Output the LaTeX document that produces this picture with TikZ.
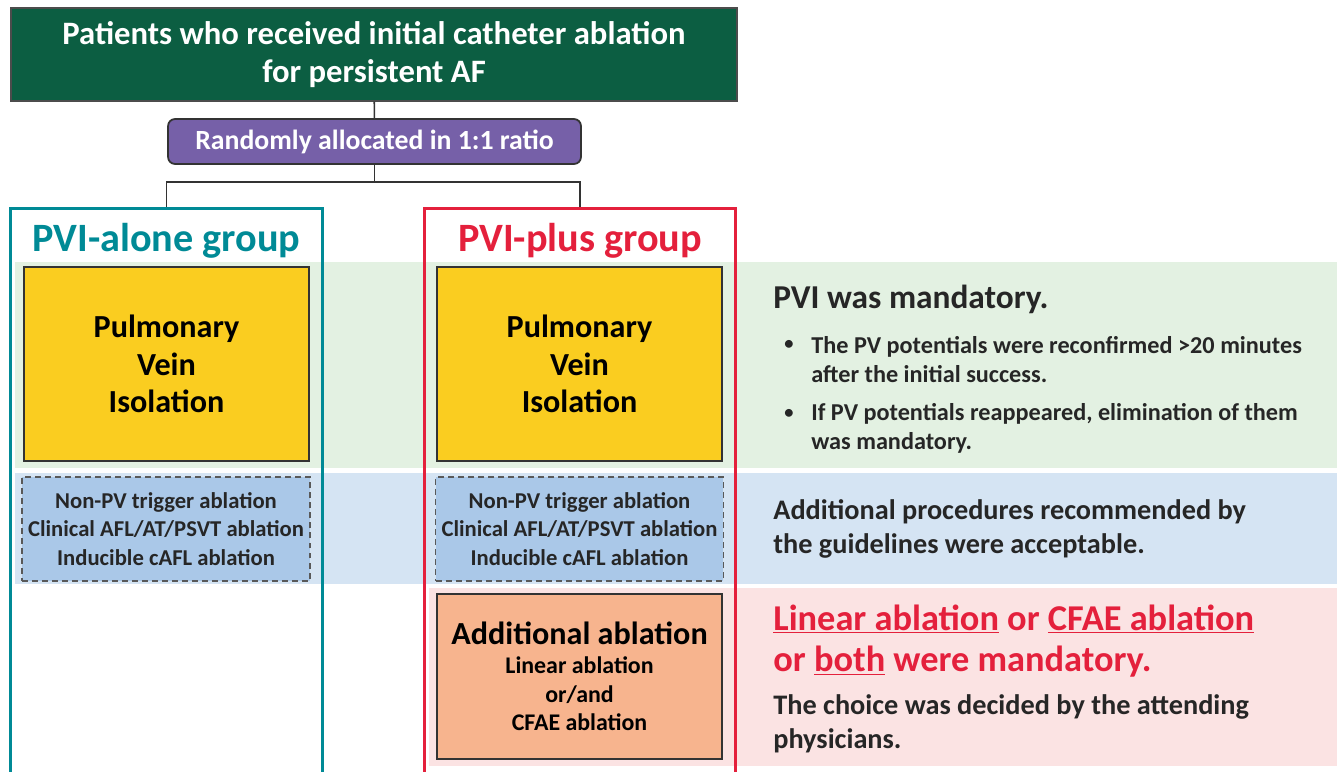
\documentclass[tikz,border=0pt]{standalone}
\usepackage{fontspec}
\setmainfont{Carlito}
\usetikzlibrary{positioning}
\definecolor{afgreen}{RGB}{12,94,66}
\definecolor{afpurple}{RGB}{118,96,168}
\definecolor{afteal}{RGB}{0,138,150}
\definecolor{afred}{RGB}{228,32,60}
\definecolor{afyellow}{RGB}{250,205,32}
\definecolor{afblue}{RGB}{170,200,232}
\definecolor{aforange}{RGB}{247,180,142}
\definecolor{bandgreen}{RGB}{227,241,226}
\definecolor{bandblue}{RGB}{213,228,243}
\definecolor{bandpink}{RGB}{251,227,227}
\definecolor{txtgray}{RGB}{38,38,38}
\tikzset{
  header/.style={rectangle, draw=black!70, line width=0.8pt, fill=afgreen, text=white, minimum width=14.52cm, minimum height=1.86cm, align=center, font=\fontsize{18.6}{21.5}\selectfont\bfseries},
  randbox/.style={rectangle, rounded corners=4pt, draw=black!80, line width=1pt, fill=afpurple, text=white, minimum width=8.26cm, minimum height=0.9cm, font=\fontsize{15.8}{17}\selectfont\bfseries},
  frame/.style={rectangle, line width=1.7pt, minimum height=11.84cm},
  grouptitle/.style={font=\fontsize{22.9}{26}\selectfont\bfseries},
  pvibox/.style={rectangle, draw=black!80, line width=1pt, fill=afyellow, minimum width=5.7cm, minimum height=3.88cm, align=center, font=\fontsize{18.3}{21.5}\selectfont\bfseries},
  extrabox/.style={rectangle, draw=black!65, line width=0.8pt, dash pattern=on 3.4pt off 2.3pt, fill=afblue, minimum height=2.08cm, align=center, text=txtgray, font=\fontsize{12.9}{16}\selectfont\bfseries},
  addbox/.style={rectangle, draw=black!80, line width=1pt, fill=aforange, minimum width=5.7cm, minimum height=3.3cm, align=center, font=\fontsize{13.6}{16.4}\selectfont\bfseries},
  note/.style={anchor=west, inner sep=0pt, align=left, text=txtgray},
  link/.style={draw=black!80, line width=0.9pt},
}
\begin{document}
\begin{tikzpicture}[x=0.02cm, y=-0.02cm]
\useasboundingbox (0,0) rectangle (1337,771);
\clip (0,0) rectangle (1337,771);

% bands behind everything
\fill[bandgreen] (15,262) rectangle (1337,468);
\fill[bandblue] (15,473) rectangle (1337,584);
\fill[bandpink] (429,588) rectangle (1337,766);

% top of the flow
\node (header) [header] at (374,54.5) {Patients who received initial catheter ablation\\for persistent AF};
\node (rand) [randbox] at (374.5,141.5) {Randomly allocated in 1:1 ratio};

% the two groups
\node (alone) [frame, draw=afteal, minimum width=6.26cm] at (166.5,504) {};
\node (plus) [frame, draw=afred, minimum width=6.24cm] at (580,504) {};
\node (alonetitle) [grouptitle, text=afteal] at (166.5,241) {PVI-alone group};
\node (plustitle) [grouptitle, text=afred] at (580,241) {PVI-plus group};

\draw[link] (header) -- (rand);
\draw[link] (rand.south) -- ++(0,17) coordinate (fork);
\draw[link] (fork) -| (alone.north);
\draw[link] (fork) -| (plus.north);

% boxes inside the groups
\node (pvialone) [pvibox] at (166.5,364) {Pulmonary\\Vein\\Isolation};
\node (pviplus) [pvibox] at (579.5,364) {Pulmonary\\Vein\\Isolation};
\node (extraalone) [extrabox, minimum width=5.76cm] at (166,529) {Non-PV trigger ablation\\Clinical AFL/AT/PSVT ablation\\Inducible cAFL ablation};
\node (extraplus) [extrabox, minimum width=5.7cm] at (579.5,529) {Non-PV trigger ablation\\Clinical AFL/AT/PSVT ablation\\Inducible cAFL ablation};
\node (addabl) [addbox] at (579.5,676.5) {{\fontsize{18.3}{18}\selectfont Additional ablation}\\Linear ablation\\or/and\\CFAE ablation};

% notes on the right
\node (pvimand) [note, font=\fontsize{19}{20}\selectfont\bfseries] at (773,299) {PVI was mandatory.};
\node (dot1) [note, font=\fontsize{10.5}{12}\selectfont\bfseries] at (784,345) {\textbullet};
\node (dot2) [note, font=\fontsize{10.5}{12}\selectfont\bfseries] at (784,414) {\textbullet};
\node (reconf) [note, font=\fontsize{13.8}{16.5}\selectfont\bfseries] at (811,359.5) {The PV potentials were reconfirmed >20 minutes\\after the initial success.};
\node (reapp) [note, font=\fontsize{13.8}{16.5}\selectfont\bfseries] at (811,428.5) {If PV potentials reappeared, elimination of them\\was mandatory.};
\node (accept) [note, font=\fontsize{16.1}{19.3}\selectfont\bfseries] at (773,529) {Additional procedures recommended by\\the guidelines were acceptable.};
\node (mand) [note, text=afred, font=\fontsize{20.7}{23.8}\selectfont\bfseries] at (773,641) {\underline{Linear ablation} or \underline{CFAE ablation}\\or \underline{both} were mandatory.};
\node (choice) [note, font=\fontsize{16.1}{19.3}\selectfont\bfseries] at (773,724) {The choice was decided by the attending\\physicians.};
\end{tikzpicture}
\end{document}
